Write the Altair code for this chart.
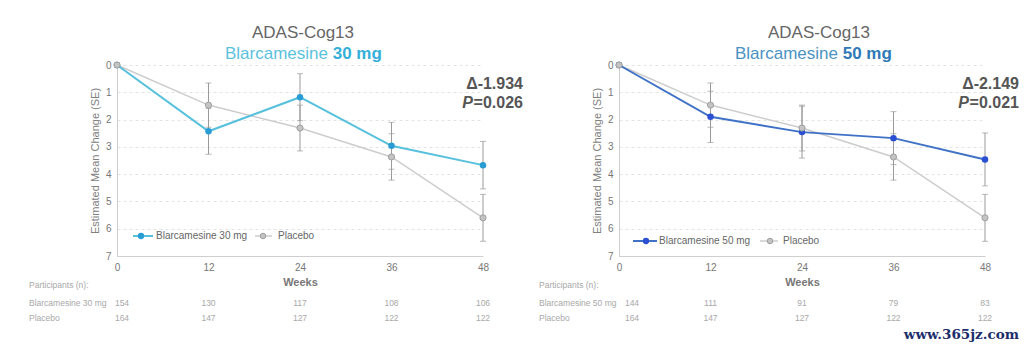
import altair as alt
import pandas as pd

# ---------------- data ----------------
weeks = [0, 12, 24, 36, 48]
y_ticks = [0, 1, 2, 3, 4, 5, 6, 7]

b30_mean = [0, 2.43, 1.18, 2.96, 3.67]
b30_se = [0, 0.84, 0.86, 0.86, 0.87]
b50_mean = [0, 1.90, 2.46, 2.68, 3.46]
b50_se = [0, 0.94, 0.95, 0.97, 0.97]
placebo_mean = [0, 1.47, 2.31, 3.37, 5.60]
placebo_se = [0, 0.81, 0.84, 0.85, 0.86]

b30_n = [154, 130, 117, 108, 106]
b50_n = [144, 111, 91, 79, 83]
placebo_n = [164, 147, 127, 122, 122]

FONT = "Liberation Sans"
W, H = 366, 191


def panel(label, dose, b_mean, b_se, b_n, delta, pval, line_c, pt_c,
          title_c, dose_c, cfg):
    df = pd.DataFrame({
        "week": weeks * 2,
        "mean": b_mean + placebo_mean,
        "se": b_se + placebo_se,
        "series": [label] * 5 + ["Placebo"] * 5,
    })
    df["lo"] = df["mean"] - df["se"]
    df["hi"] = df["mean"] + df["se"]
    err = df[df["se"] > 0]

    xaxis = alt.Axis(values=weeks, title="Weeks", grid=False, ticks=False,
                     domainColor="#cfcfcf", labelColor="#777777",
                     labelFontSize=10, labelPadding=6, labelFlush=False,
                     titleFontSize=11, titleColor="#777777",
                     titleFontWeight="bold", titlePadding=4)
    x = alt.X("week:Q", scale=alt.Scale(domain=[0, 48], nice=False, zero=False),
              axis=xaxis)
    yscale = alt.Scale(domain=[0, 7], reverse=True, nice=False, zero=False)
    yaxis = alt.Axis(values=y_ticks, tickCount=8, title="Estimated Mean Change (SE)",
                     grid=True, gridDash=[3, 3], gridColor="#e3e3e3",
                     ticks=False, domainColor="#cfcfcf", labelOverlap=False,
                     labelColor="#777777", labelFontSize=10, labelPadding=6,
                     titleFontSize=11, titleColor="#808080",
                     titleFontWeight="normal", titlePadding=5)
    y = alt.Y("mean:Q", scale=yscale, axis=yaxis)
    ylo = alt.Y("lo:Q", scale=yscale, axis=yaxis)
    yhi = alt.Y("hi:Q", scale=yscale, axis=yaxis)

    base = alt.Chart(df)
    plac = base.transform_filter(alt.datum.series == "Placebo")
    drug = base.transform_filter(alt.datum.series == label)
    plac_line = plac.mark_line(strokeWidth=1.6, color="#cdcdcd").encode(x=x, y=y)
    b_line = drug.mark_line(strokeWidth=2, color=line_c).encode(x=x, y=y)
    ebar = alt.Chart(err).mark_rule(color="#9a9a9a", strokeWidth=1).encode(
        x=x, y=ylo, y2="hi:Q")
    cap_lo = alt.Chart(err).mark_tick(color="#9a9a9a", orient="horizontal",
                                       size=6, thickness=1).encode(x=x, y=ylo)
    cap_hi = alt.Chart(err).mark_tick(color="#9a9a9a", orient="horizontal",
                                       size=6, thickness=1).encode(x=x, y=yhi)
    b_pts = drug.mark_point(filled=True, size=42, color=pt_c, opacity=1).encode(x=x, y=y)
    p_pts = plac.mark_point(filled=True, size=38, color="#c4c4c4", stroke="#9e9e9e",
                            strokeWidth=1, opacity=1).encode(x=x, y=y)

    # participants table
    tdf = pd.DataFrame({"week": weeks * 2, "n": b_n + placebo_n,
                        "row": ["b"] * 5 + ["p"] * 5})
    tbase = alt.Chart(tdf)
    tstyle = dict(fontSize=8.5, color="#a8a8a8", baseline="middle", align="center")
    t_b = tbase.transform_filter((alt.datum.row == "b") & (alt.datum.week > 0)).mark_text(
        **tstyle).encode(x=x, y=alt.value(238), text="n:Q")
    t_p = tbase.transform_filter((alt.datum.row == "p") & (alt.datum.week > 0)).mark_text(
        **tstyle).encode(x=x, y=alt.value(253), text="n:Q")
    t_b0 = tbase.transform_filter((alt.datum.row == "b") & (alt.datum.week == 0)).mark_text(
        dx=cfg["first_dx"], **tstyle).encode(x=x, y=alt.value(238), text="n:Q")
    t_p0 = tbase.transform_filter((alt.datum.row == "p") & (alt.datum.week == 0)).mark_text(
        dx=cfg["first_dx"], **tstyle).encode(x=x, y=alt.value(253), text="n:Q")

    one = alt.Chart(pd.DataFrame({"k": [0]}))
    lbl = dict(fontSize=8.5, color="#a8a8a8", baseline="middle", align="left")
    r_head = one.mark_text(**lbl).encode(x=alt.value(cfg["row_x"]), y=alt.value(220),
                                         text=alt.value("Participants (n):"))
    r_b = one.mark_text(**lbl).encode(x=alt.value(cfg["row_x"]), y=alt.value(238),
                                      text=alt.value(label))
    r_p = one.mark_text(**lbl).encode(x=alt.value(cfg["row_x"]), y=alt.value(253),
                                      text=alt.value("Placebo"))

    # titles
    t1 = one.mark_text(fontSize=17, color="#666666", align="center",
                       baseline="middle").encode(
        x=alt.value(cfg["t1_x"]), y=alt.value(-32), text=alt.value("ADAS-Cog13"))
    t2a = one.mark_text(fontSize=17, color=title_c, align="right",
                        baseline="middle").encode(
        x=alt.value(cfg["t2_x"]), y=alt.value(-11), text=alt.value("Blarcamesine"))
    t2b = one.mark_text(fontSize=17, color=dose_c, align="left", fontWeight="bold",
                        baseline="middle").encode(
        x=alt.value(cfg["t2_x"] + 4.7), y=alt.value(-11), text=alt.value(dose))

    # delta / p annotation
    d1 = one.mark_text(fontSize=16, fontWeight="bold", color="#555555", align="right",
                       baseline="middle").encode(
        x=alt.value(cfg["d_x"]), y=alt.value(19), text=alt.value(delta))
    d2 = one.mark_text(fontSize=16, fontWeight="bold", color="#555555", align="right",
                       baseline="middle").encode(
        x=alt.value(cfg["d_x"]), y=alt.value(38), text=alt.value("=" + pval))
    d3 = one.mark_text(fontSize=16, fontWeight="bold", fontStyle="italic",
                       color="#555555", align="right", baseline="middle").encode(
        x=alt.value(cfg["d_x"] - 50), y=alt.value(38), text=alt.value("P"))

    # in-plot legend
    ly = cfg["leg_y"]
    lg = []
    lg.append(one.mark_rule(color=line_c, strokeWidth=2).encode(
        x=alt.value(cfg["l1"][0]), x2=alt.value(cfg["l1"][1]), y=alt.value(ly)))
    lg.append(one.mark_point(filled=True, size=40, color=pt_c, opacity=1).encode(
        x=alt.value(cfg["l1"][2]), y=alt.value(ly)))
    lg.append(one.mark_text(fontSize=10, color="#666666", align="left",
                            baseline="middle").encode(
        x=alt.value(cfg["l1"][3]), y=alt.value(ly), text=alt.value(label)))
    lg.append(one.mark_rule(color="#cdcdcd", strokeWidth=1.5).encode(
        x=alt.value(cfg["l2"][0]), x2=alt.value(cfg["l2"][1]), y=alt.value(ly)))
    lg.append(one.mark_point(filled=True, size=30, color="#c4c4c4", stroke="#9e9e9e",
                             strokeWidth=1, opacity=1).encode(
        x=alt.value(cfg["l2"][2]), y=alt.value(ly)))
    lg.append(one.mark_text(fontSize=10, color="#666666", align="left",
                            baseline="middle").encode(
        x=alt.value(cfg["l2"][3]), y=alt.value(ly), text=alt.value("Placebo")))

    layers = [plac_line, b_line, ebar, cap_lo, cap_hi, b_pts, p_pts,
              t_b, t_p, t_b0, t_p0, r_head, r_b, r_p, t1, t2a, t2b, d1, d2, d3] + lg

    # invisible extent marker that fixes the page frame
    ext = one.mark_rule(strokeWidth=0.01, opacity=0).encode(
        x=alt.value(cfg["ext"][0]), x2=alt.value(cfg["ext"][0] + 0.5),
        y=alt.value(cfg["ext"][1]), y2=alt.value(cfg["ext"][1] + 0.5))
    layers.append(ext)
    for extra in cfg.get("extra", []):
        layers.append(extra)

    return alt.layer(*layers).properties(width=W, height=H)


one_row = alt.Chart(pd.DataFrame({"k": [0]}))
watermark = one_row.mark_text(fontSize=13.5, fontWeight="bold", font="DejaVu Serif",
                              color="#1c2d6b", align="right", baseline="middle").encode(
    x=alt.value(400), y=alt.value(270), text=alt.value("www.365jz.com"))

left = panel("Blarcamesine 30 mg", "30 mg", b30_mean, b30_se, b30_n,
             "\u0394-1.934", "0.026", "#56c0dd", "#2a9cd4", "#5cc2de", "#35afd9",
             dict(first_dx=5, row_x=-88, t1_x=186, t2_x=211, d_x=406,
                  leg_y=171, l1=(16, 36, 24, 39), l2=(138, 155, 146, 161),
                  ext=(-117, -65)))
right = panel("Blarcamesine 50 mg", "50 mg", b50_mean, b50_se, b50_n,
              "\u0394-2.149", "0.021", "#3f72c6", "#2b4fd2", "#4b92c3", "#2f79b7",
              dict(first_dx=13, row_x=-80, t1_x=200, t2_x=219, d_x=400,
                   leg_y=176, l1=(14, 38, 27, 40), l2=(141, 159, 151, 164),
                   ext=(409.5, 286.5), extra=[watermark]))

chart = alt.hconcat(left, right, spacing=136, bounds="flush").properties(
    padding=0, background="white"
).configure_view(stroke=None).configure_axis(
    labelFont=FONT, titleFont=FONT
).configure_text(font=FONT)

chart.save("out.html", embed_options={"renderer": "svg", "actions": False})
